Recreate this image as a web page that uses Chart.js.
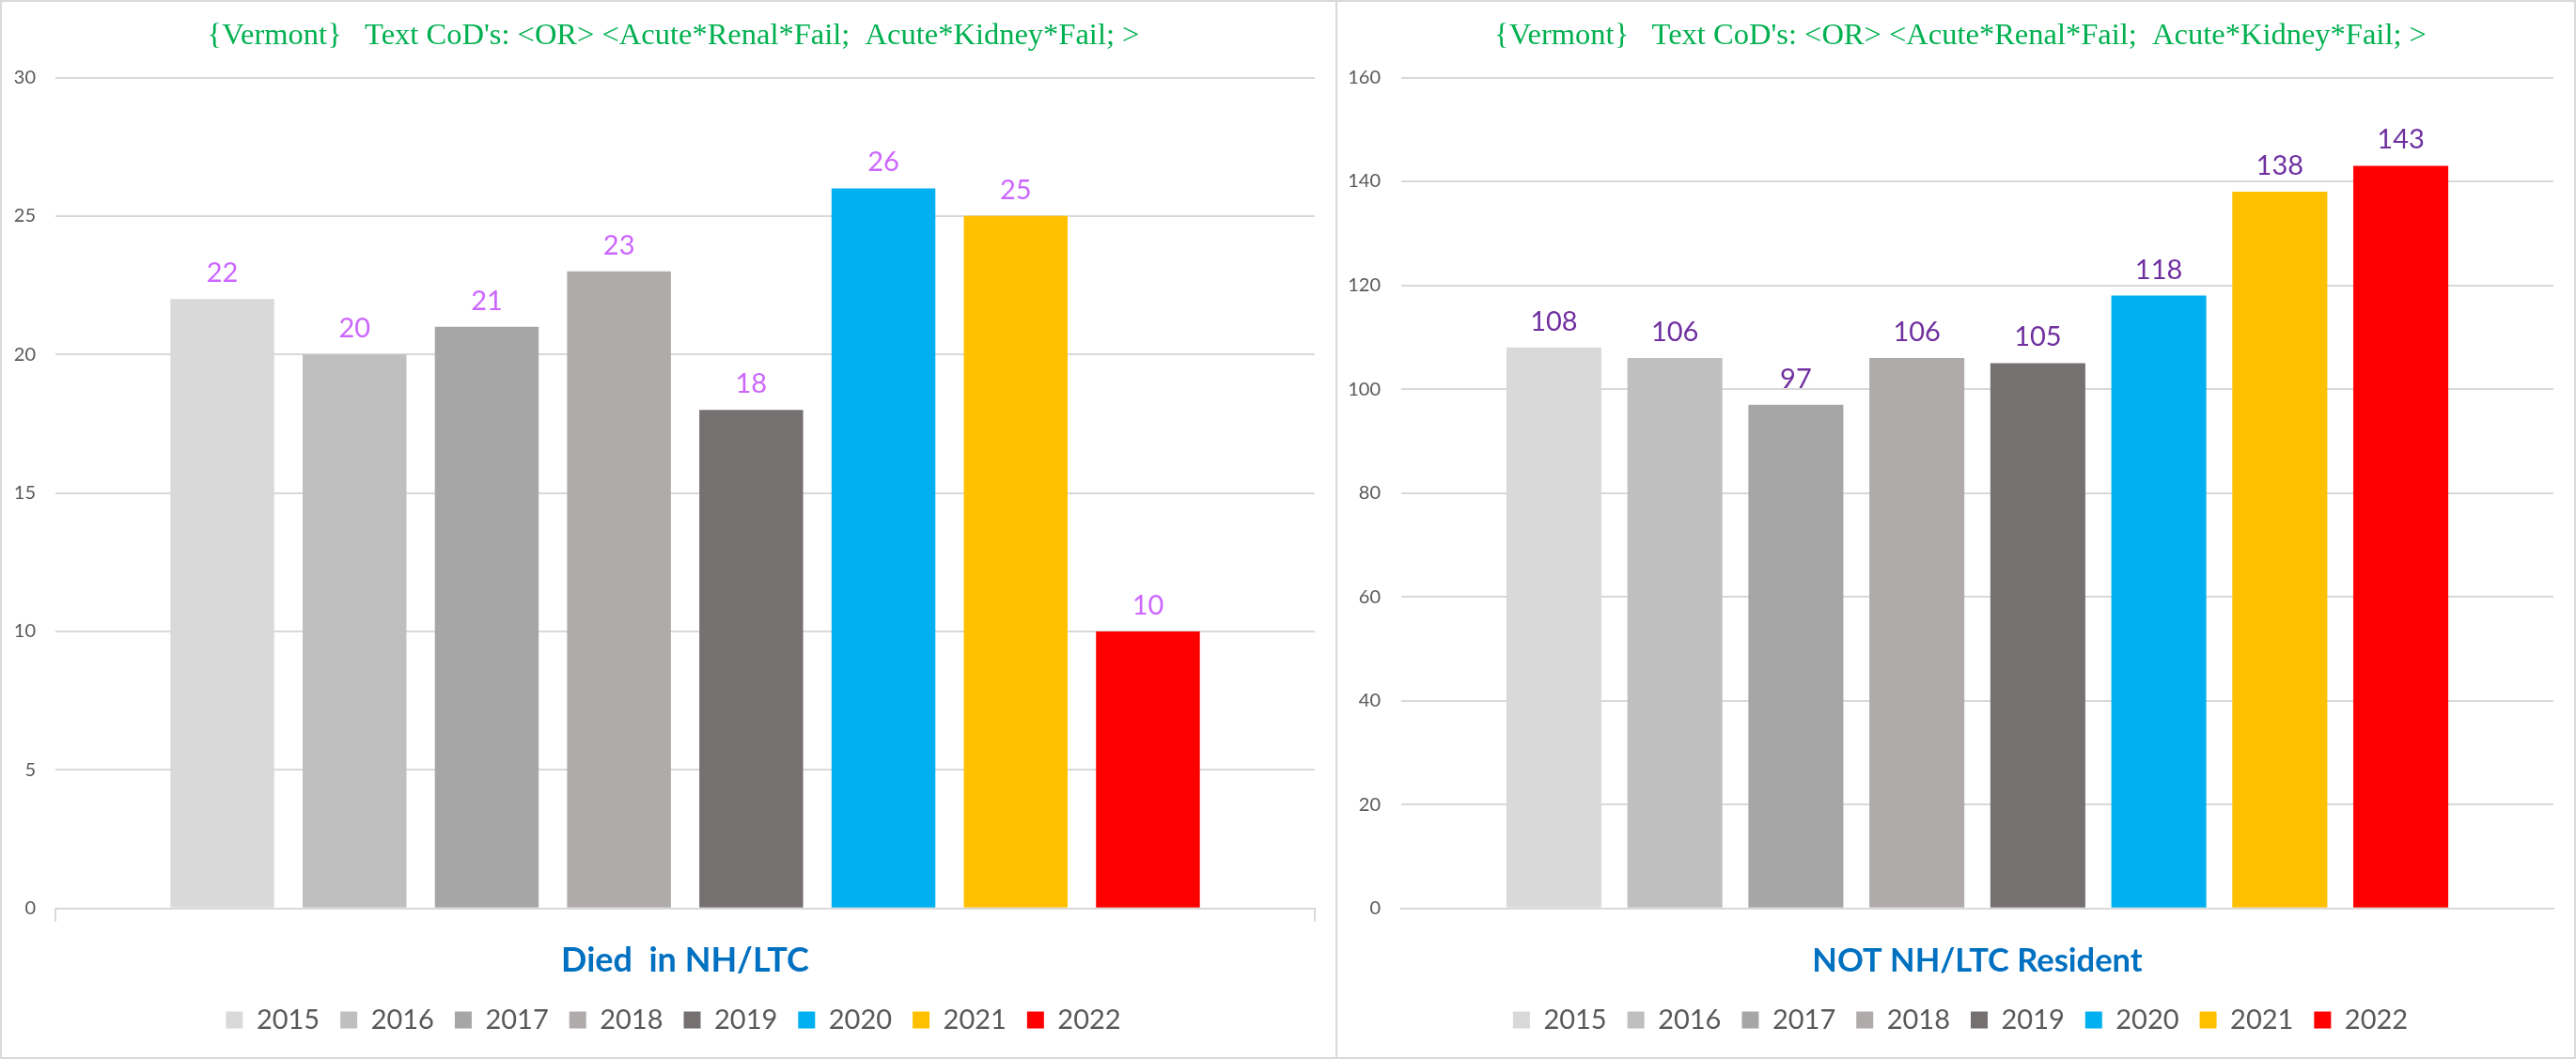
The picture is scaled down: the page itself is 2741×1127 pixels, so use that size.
<!DOCTYPE html>
<html>
<head>
<meta charset="utf-8">
<title>Vermont - Acute Renal / Kidney Failure</title>
<script src="https://cdn.jsdelivr.net/npm/chart.js@4/dist/chart.umd.min.js"></script>
<style>
  html, body { margin: 0; padding: 0; background: #fff; }
  body { width: 2741px; height: 1127px; position: relative; overflow: hidden; }
  .panel { position: absolute; top: 0; height: 1127px; box-sizing: border-box; border: 2px solid #d9d9d9; }
  #left { left: 0; width: 1423px; }
  #right { left: 1421px; width: 1320px; }
  canvas { display: block; }
</style>
</head>
<body>
<div class="panel" id="left"><canvas id="chartLeft" width="1419" height="1123"></canvas></div>
<div class="panel" id="right"><canvas id="chartRight" width="1316" height="1123"></canvas></div>

<script>
// data
const years = ["2015", "2016", "2017", "2018", "2019", "2020", "2021", "2022"];
const diedInNH = [22, 20, 21, 23, 18, 26, 25, 10];
const notNHResident = [108, 106, 97, 106, 105, 118, 138, 143];
const leftTicks = [0, 5, 10, 15, 20, 25, 30];
const rightTicks = [0, 20, 40, 60, 80, 100, 120, 140, 160];

const yearColors = ["#d9d9d9", "#bfbfbf", "#a6a6a6", "#afabab", "#767171", "#00b0f0", "#ffc000", "#ff0000"];
const titleText = "{Vermont}   Text CoD's: <OR> <Acute*Renal*Fail;  Acute*Kidney*Fail; >";
const sansFont = "Lato, 'Liberation Sans', sans-serif";

// value labels above each bar
const barLabels = {
  id: "barLabels",
  afterDatasetsDraw(chart, args, opts) {
    const ctx = chart.ctx;
    ctx.save();
    ctx.font = "29px " + sansFont;
    ctx.fillStyle = opts.color;
    ctx.textAlign = "center";
    ctx.textBaseline = "alphabetic";
    chart.data.datasets.forEach((ds, i) => {
      const bar = chart.getDatasetMeta(i).data[0];
      ctx.fillText(String(ds.data[0]), bar.x, bar.y - 18);
    });
    ctx.restore();
  }
};

// the original centres title and legend a bit right of the canvas centre
const nudgeBlocks = {
  id: "nudgeBlocks",
  afterLayout(chart, args, opts) {
    [chart.titleBlock, chart.legend].forEach((box) => {
      if (!box) return;
      box.left += opts.shift;
      box.right += opts.shift;
    });
  }
};

function makeChart(canvasId, values, ticks, axisTitle, titleSize, labelColor, yWidth, labelGap, showEdgeTicks) {
  const datasets = years.map((y, i) => ({
    label: y,
    data: [values[i]],
    backgroundColor: yearColors[i],
    borderWidth: 0,
    categoryPercentage: 0.84,
    barPercentage: 0.785
  }));

  // keep the axis title centred at the same height whatever its size
  const lh = titleSize * 1.2;
  const padBottom = 26.6 - lh / 2;
  const padTop = 68.3 - lh - padBottom;

  return new Chart(document.getElementById(canvasId), {
    type: "bar",
    data: { labels: [""], datasets },
    plugins: [barLabels, nudgeBlocks],
    options: {
      responsive: false,
      animation: false,
      events: [],
      layout: { padding: { left: 0, right: 22, top: 0, bottom: 15 } },
      plugins: {
        barLabels: { color: labelColor },
        nudgeBlocks: { shift: 16 },
        tooltip: { enabled: false },
        title: {
          display: true,
          text: titleText,
          color: "#00b050",
          font: { family: "'Liberation Serif', 'DejaVu Serif', serif", size: 32.5, weight: "normal" },
          padding: { top: 16.5, bottom: 25 }
        },
        legend: {
          position: "bottom",
          labels: {
            color: "#595959",
            font: { family: sansFont, size: 29 },
            boxWidth: 18,
            boxHeight: 18,
            padding: 22
          }
        }
      },
      scales: {
        x: {
          offset: true,
          border: { display: true, color: "#d9d9d9", width: 2 },
          grid: {
            display: true,
            drawOnChartArea: false,
            drawTicks: true,
            tickLength: 14,
            lineWidth: 2,
            color: showEdgeTicks ? "#d9d9d9" : "rgba(0,0,0,0)"
          },
          ticks: { display: false },
          title: {
            display: true,
            text: axisTitle,
            color: "#0070c0",
            font: { family: sansFont, size: titleSize, weight: "bold" },
            padding: { top: padTop, bottom: padBottom }
          }
        },
        y: {
          min: ticks[0],
          max: ticks[ticks.length - 1],
          border: { display: false },
          grid: { color: "#d9d9d9", lineWidth: 2, drawTicks: false },
          afterFit(scale) { scale.width = yWidth; },
          ticks: {
            stepSize: ticks[1] - ticks[0],
            color: "#595959",
            padding: labelGap,
            font: { family: sansFont, size: 20 }
          }
        }
      }
    }
  });
}

makeChart("chartLeft", diedInNH, leftTicks, "Died  in NH/LTC", 36, "#cc66ff", 57, 21, true);
makeChart("chartRight", notNHResident, rightTicks, "NOT NH/LTC Resident", 34.5, "#7030a0", 68, 22, false);
</script>
</body>
</html>
